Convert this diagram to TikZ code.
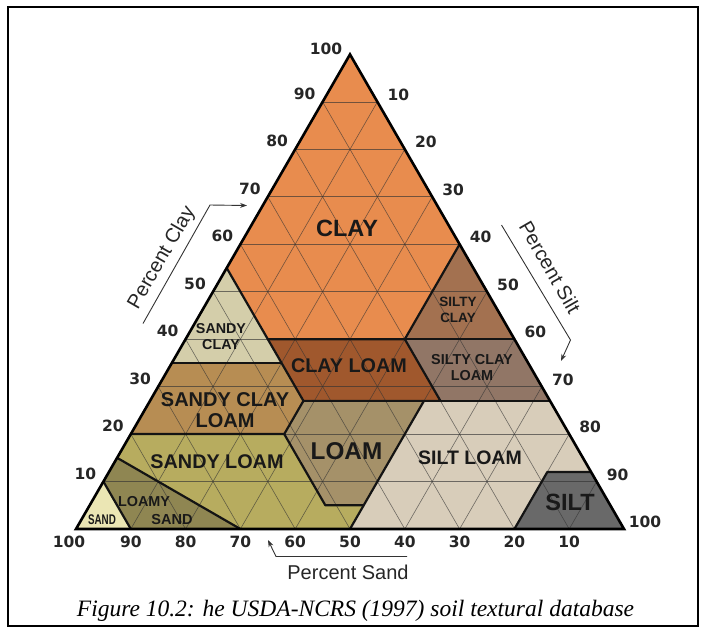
\documentclass[tikz,border=0pt]{standalone}
\usepackage{fontspec}
\setmainfont{Liberation Sans}
\newfontfamily\tickfont{DejaVu Sans}
\newfontfamily\capfont{Liberation Serif}
\usetikzlibrary{arrows.meta}
\definecolor{cClay}{HTML}{E88C4E}
\definecolor{cSiltyClay}{HTML}{A37150}
\definecolor{cSandyClay}{HTML}{D4CEAA}
\definecolor{cClayLoam}{HTML}{A0582D}
\definecolor{cSiltyClayLoam}{HTML}{917666}
\definecolor{cSandyClayLoam}{HTML}{B78D53}
\definecolor{cLoam}{HTML}{A59169}
\definecolor{cSiltLoam}{HTML}{D8CDBA}
\definecolor{cSilt}{HTML}{696969}
\definecolor{cSandyLoam}{HTML}{B7AC5F}
\definecolor{cLoamySand}{HTML}{8F8652}
\definecolor{cSand}{HTML}{EBE6B4}
\tikzset{
  tick/.style={font=\tickfont\bfseries\fontsize{15.5}{18}\selectfont, text=black!85, inner sep=0pt},
  gridline/.style={line width=0.6pt, draw=black!80, opacity=0.65},
  bound/.style={line width=2.2pt, line join=round, draw=black!92},
  lab/.style n args={2}{font=\bfseries\fontsize{#1}{#2}\selectfont, align=center, inner sep=0pt, text=black!90},
  axislab/.style={font=\fontsize{20}{22}\selectfont, inner sep=0pt, text=black!85},
  axisarrow/.style={line width=0.9pt, draw=black!80, -{Stealth[length=7pt,width=5pt]}},
}
\begin{document}
\begin{tikzpicture}[x=1pt,y=-1pt]
\useasboundingbox (0,0) rectangle (701,630);
\draw[line width=2.4pt] (8,7) rectangle (698,626);

\begin{scope}[shift={(76,529)}, x={(5.48pt,0pt)}, y={(2.74pt,4.746pt)}]
  % (silt, clay) coordinates
  \fill[cClay] (0,100) -- (0,55) -- (15,40) -- (40,40) -- (40,60) -- cycle;
  \fill[cSiltyClay] (40,60) -- (40,40) -- (60,40) -- cycle;
  \fill[cSandyClay] (0,55) -- (0,35) -- (20,35) -- cycle;
  \fill[cClayLoam] (15,40) -- (40,40) -- (53,27) -- (28,27) -- cycle;
  \fill[cSiltyClayLoam] (40,40) -- (60,40) -- (73,27) -- (53,27) -- cycle;
  \fill[cSandyClayLoam] (0,35) -- (20,35) -- (28,27) -- (28,20) -- (0,20) -- cycle;
  \fill[cLoam] (28,27) -- (50,27) -- (50,5) -- (43,5) -- (28,20) -- cycle;
  \fill[cSiltLoam] (50,0) -- (50,27) -- (73,27) -- (88,12) -- (80,12) -- (80,0) -- cycle;
  \fill[cSilt] (80,0) -- (80,12) -- (88,12) -- (100,0) -- cycle;
  \fill[cSandyLoam] (0,20) -- (28,20) -- (43,5) -- (50,5) -- (50,0) -- (30,0) -- (0,15) -- cycle;
  \fill[cLoamySand] (0,15) -- (30,0) -- (10,0) -- (0,10) -- cycle;
  \fill[cSand] (0,0) -- (0,10) -- (10,0) -- cycle;

  \foreach \i in {10,20,...,90}{
    \draw[gridline] (0,\i) -- (100-\i,\i);
    \draw[gridline] (\i,0) -- (\i,100-\i);
    \draw[gridline] (100-\i,0) -- (0,100-\i);
  }

  \draw[bound] (0,55) -- (15,40) -- (40,40) -- (40,60);
  \draw[bound] (40,40) -- (60,40);
  \draw[bound] (0,35) -- (20,35);
  \draw[bound] (15,40) -- (28,27) -- (53,27) -- (40,40);
  \draw[bound] (53,27) -- (73,27);
  \draw[bound] (28,27) -- (28,20) -- (0,20);
  \draw[bound] (28,20) -- (43,5) -- (50,5) -- (50,27);
  \draw[bound] (50,5) -- (50,0);
  \draw[bound] (80,0) -- (80,12) -- (88,12);
  \draw[bound] (0,15) -- (30,0);
  \draw[bound] (0,10) -- (10,0);
  \draw[line width=2.6pt, line join=miter] (0,0) -- (100,0) -- (0,100) -- cycle;

  \foreach \c in {10,20,...,90}{
    \node[tick] (lc\c) at ([xshift=-18pt,yshift=8pt]0,\c) {\c};
    \node[tick] (rs\c) at ([xshift=21pt,yshift=7pt]\c,100-\c) {\c};
    \node[tick] (bs\c) at ([yshift=-13pt]100-\c,0) {\c};
  }
\end{scope}
\node[tick] (lc100) at (326,49) {100};
\node[tick] (rs100) at (645,522) {100};
\node[tick] (bs100) at (69,542) {100};

% region labels
\node[lab={23.5}{24}] (tClay) at (347,228) {CLAY};
\node[lab={13.5}{16.5}] (tSiltyClay) at (458,310) {SILTY\\CLAY};
\node[lab={14.3}{16}] (tSandyClay) at (221,337) {SANDY\\CLAY};
\node[lab={19.8}{21}] (tClayLoam) at (349,366) {CLAY LOAM};
\node[lab={14.4}{16}] (tSiltyClayLoam) at (472,368) {SILTY CLAY\\LOAM};
\node[lab={20}{21}] (tSandyClayLoam) at (225,410.5) {SANDY CLAY\\LOAM};
\node[lab={24.3}{25}] (tLoam) at (346.5,451) {LOAM};
\node[lab={19.5}{21}] (tSiltLoam) at (470,458) {SILT LOAM};
\node[lab={19.8}{21}] (tSandyLoam) at (217,462) {SANDY LOAM};
\node[lab={14.4}{16}] (tLoamy) at (144,501.5) {LOAMY};
\node[lab={14.5}{16}] (tLoamySand) at (172,519.5) {SAND};
\node[lab={14}{16}, xscale=0.7] (tSand) at (102,520) {SAND};
\node[lab={23.5}{24}] (tSilt) at (570,502) {SILT};

% axis titles and arrows
\node[axislab, rotate=60] (pClay) at (162,258) {Percent Clay};
\node[axislab, rotate=-60] (pSilt) at (550,267) {Percent Silt};
\node[axislab] (pSand) at (348,572.5) {Percent Sand};

\coordinate (ca1) at (143,323.5);
\coordinate (ca2) at (210,205);
\coordinate (ca3) at (247,205.5);
\draw[axisarrow] (ca1) -- (ca2) -- (ca3);
\coordinate (sa1) at (501.5,225);
\coordinate (sa2) at (570.5,340);
\coordinate (sa3) at (561,361);
\draw[axisarrow] (sa1) -- (sa2) -- (sa3);
\coordinate (da1) at (407,556.5);
\coordinate (da2) at (276,556.5);
\coordinate (da3) at (268,540);
\draw[axisarrow] (da1) -- (da2) -- (da3);

\node[font=\capfont\itshape\fontsize{23.5}{26}\selectfont, inner sep=0pt] (caption) at (355.5,611) {Figure 10.2: he USDA-NCRS (1997) soil textural database};
\end{tikzpicture}
\end{document}
